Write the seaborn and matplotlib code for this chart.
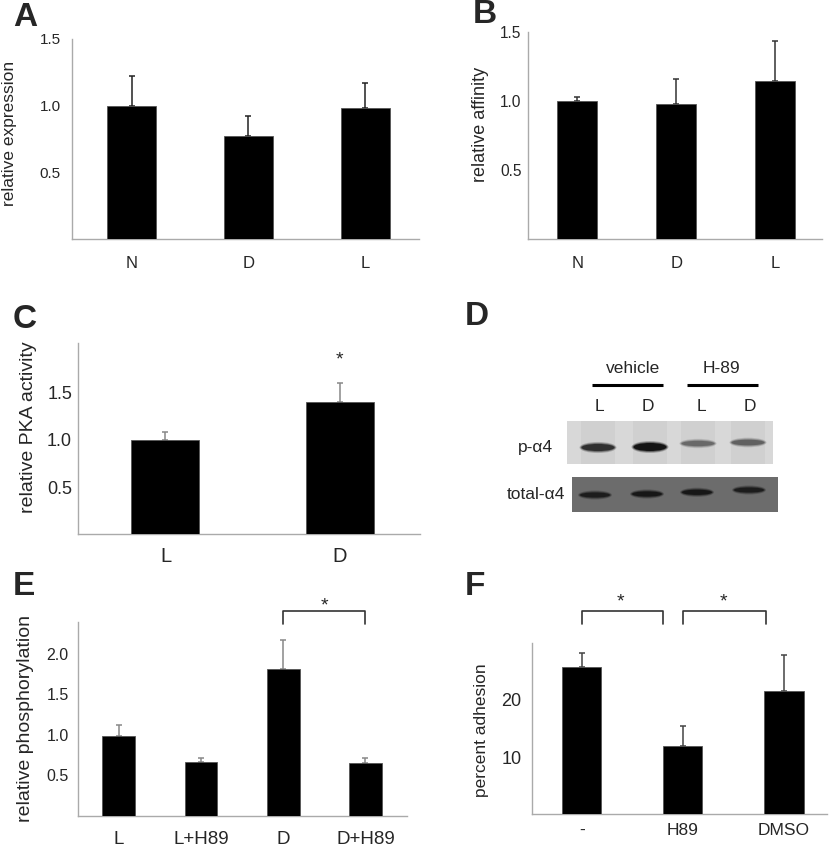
import matplotlib
matplotlib.use("Agg")
import numpy as np
import seaborn as sns
import matplotlib.pyplot as plt
from matplotlib.patches import Rectangle, Ellipse

# ---------------------------------------------------------------------------
# data
# ---------------------------------------------------------------------------
groups_a = ["N", "D", "L"]
expression_mean = [1.00, 0.77, 0.98]
expression_err = [0.22, 0.155, 0.19]

groups_b = ["N", "D", "L"]
affinity_mean = [1.00, 0.98, 1.146]
affinity_err = [0.03, 0.175, 0.29]

groups_c = ["L", "D"]
pka_mean = [1.00, 1.40]
pka_err = [0.08, 0.195]

groups_e = ["L", "L+H89", "D", "D+H89"]
phospho_mean = [0.98, 0.67, 1.82, 0.65]
phospho_err = [0.14, 0.05, 0.35, 0.06]

groups_f = ["-", "H89", "DMSO"]
adhesion_mean = [25.75, 11.9, 21.6]
adhesion_err = [2.45, 3.5, 6.3]

# western blot (panel D)
blot_lanes = ["L", "D", "L", "D"]
blot_treatments = ["vehicle", "H-89"]
p_a4_signal = [0.85, 1.0, 0.55, 0.6]
total_a4_signal = [0.92, 0.95, 0.95, 0.92]

# ---------------------------------------------------------------------------
sns.set_theme(style="white")
plt.rcParams["font.family"] = ["Liberation Sans", "DejaVu Sans"]

W, H = 835, 848
fig = plt.figure(figsize=(W / 100, H / 100), dpi=100)


def px_rect(l, t, r, b):
    return [l / W, 1 - b / H, (r - l) / W, (b - t) / H]


def bar_panel(rect, labels, means, errs, ylim, yticks, yticklabels, xlim, width,
              ylabel, lab_xy, fs_tick, fs_x, fs_lab, ecolor, xpad, ypad):
    ax = fig.add_axes(px_rect(*rect))
    sns.barplot(x=labels, y=means, color="black", saturation=1, width=width,
                edgecolor="#555555", linewidth=0.6, ax=ax, zorder=3)
    ax.errorbar(range(len(labels)), means, yerr=[np.zeros(len(errs)), errs],
                fmt="none", ecolor=ecolor, elinewidth=1.1, capsize=2.2,
                capthick=1.1, zorder=2)
    ax.set_xlim(*xlim)
    ax.set_ylim(*ylim)
    ax.set_yticks(yticks)
    ax.set_yticklabels(yticklabels)
    for s in ["top", "right"]:
        ax.spines[s].set_visible(False)
    for s in ["left", "bottom"]:
        ax.spines[s].set_color("#aaaaaa")
        ax.spines[s].set_linewidth(1.0)
    ax.tick_params(axis="y", length=3.5, width=1, color="#aaaaaa",
                   pad=ypad, labelsize=fs_tick)
    ax.tick_params(axis="x", length=0, pad=xpad, labelsize=fs_x)
    ax.set_xlabel("")
    ax.set_ylabel(ylabel, fontsize=fs_lab, va="center")
    ax.yaxis.set_label_coords(*lab_xy)
    return ax


def band(ax, x, y, w, h, shade):
    # soft-edged blot band: faint halo + core
    ax.add_patch(Ellipse((x, y), w + 4, h + 4, facecolor=shade, alpha=0.25, edgecolor="none"))
    ax.add_patch(Ellipse((x, y), w + 2, h + 2, facecolor=shade, alpha=0.45, edgecolor="none"))
    ax.add_patch(Ellipse((x, y), w, h, facecolor=shade, edgecolor="none"))


# A
bar_panel((72, 39, 419, 239), groups_a, expression_mean, expression_err,
          (0, 1.5), [0.5, 1.0, 1.5], ["0.5", "1.0", "1.5"], (-0.51, 2.46), 0.42,
          "relative expression", (-0.18, 0.53), 11, 12, 12.5, "#222222", 12, 4.5)

# B
bar_panel((527.7, 31.7, 821.7, 239.3), groups_b, affinity_mean, affinity_err,
          (0, 1.5), [0.5, 1.0, 1.5], ["0.5", "1.0", "1.5"], (-0.50, 2.47), 0.40,
          "relative affinity", (-0.159, 0.555), 11.2, 12, 13, "#333333", 12, 1)

# C
ax_c = bar_panel((78.3, 343.3, 420, 534.3), groups_c, pka_mean, pka_err,
                 (0, 2.02), [0.5, 1.0, 1.5], ["0.5", "1.0", "1.5"], (-0.50, 1.46), 0.39,
                 "relative PKA activity", (-0.147, 0.56), 13, 14.5, 14, "#888888", 9.5, 1)
ax_c.text(1, 1.84, "*", ha="center", va="center", fontsize=14)

# E
ax_e = bar_panel((77.7, 621.7, 407.3, 815.7), groups_e, phospho_mean, phospho_err,
                 (0, 2.40), [0.5, 1.0, 1.5, 2.0], ["0.5", "1.0", "1.5", "2.0"],
                 (-0.50, 3.51), 0.40,
                 "relative phosphorylation", (-0.157, 0.50), 11.5, 13.5, 14, "#888888", 11, 3)
ax_e.plot([2, 2, 3, 3], [2.37, 2.53, 2.53, 2.37], color="#333333", lw=1.2, clip_on=False)
ax_e.text(2.5, 2.60, "*", ha="center", va="center", fontsize=14, clip_on=False)

# F
ax_f = bar_panel((531.7, 642.7, 827.3, 814.3), groups_f, adhesion_mean, adhesion_err,
                 (0, 30), [10, 20], ["10", "20"], (-0.495, 2.43), 0.39,
                 "percent adhesion", (-0.171, 0.49), 13, 12.5, 12.5, "#444444", 6, 4)
ax_f.plot([0, 0, 0.8, 0.8], [33.3, 35.5, 35.5, 33.3], color="#333333", lw=1.2, clip_on=False)
ax_f.plot([1.0, 1.0, 1.82, 1.82], [33.3, 35.5, 35.5, 33.3], color="#333333", lw=1.2, clip_on=False)
ax_f.text(0.38, 37.2, "*", ha="center", va="center", fontsize=14, clip_on=False)
ax_f.text(1.40, 37.2, "*", ha="center", va="center", fontsize=14, clip_on=False)

# D: blot drawn in pixel coordinates of its own region
ax_d = fig.add_axes(px_rect(420, 290, 835, 560))
ax_d.set_xlim(420, 835)
ax_d.set_ylim(560, 290)
ax_d.axis("off")

lane_x_top = [598, 650, 698, 748]
lane_y_top = [447.5, 447, 443.5, 442.5]
lane_x_bot = [595, 647, 697, 749]
lane_y_bot = [495, 494, 492.3, 490]

ax_d.text(633, 369, blot_treatments[0], ha="center", va="center", fontsize=12.5)
ax_d.text(721, 369, blot_treatments[1], ha="center", va="center", fontsize=12.5)
ax_d.plot([591.7, 663.3], [385, 385], color="black", lw=2.2, solid_capstyle="butt")
ax_d.plot([686.7, 757.7], [385, 385], color="black", lw=2.2, solid_capstyle="butt")
for x, lab in zip([599, 648.3, 701, 750], blot_lanes):
    ax_d.text(x, 407, lab, ha="center", va="center", fontsize=12.5)

ax_d.add_patch(Rectangle((566.7, 421), 206.6, 43.3, facecolor="#d8d8d8", edgecolor="none"))
for x in lane_x_top:
    ax_d.add_patch(Rectangle((x - 17, 421), 34, 43.3, facecolor="#d0d0d0", edgecolor="none"))
ax_d.add_patch(Rectangle((571.7, 476.7), 206.6, 35, facecolor="#6c6c6c", edgecolor="none"))

for x, y, s in zip(lane_x_top, lane_y_top, p_a4_signal):
    shade = str(round(0.82 - 0.74 * s, 2))
    band(ax_d, x, y, 33, 2 + 6 * s, shade)
for x, y, s in zip(lane_x_bot, lane_y_bot, total_a4_signal):
    shade = str(round(0.85 - 0.8 * s, 2))
    band(ax_d, x, y, 30, 5.5 * s, shade)

ax_d.text(553, 448, "p-α4", ha="right", va="center", fontsize=12.5)
ax_d.text(565, 495, "total-α4", ha="right", va="center", fontsize=12.5)

# panel letters
for lab, x, y in [("A", 12.7, 26), ("B", 473, 23), ("C", 13, 328),
                  ("D", 465, 325), ("E", 13, 595), ("F", 465, 595)]:
    fig.text(x / W, 1 - y / H, lab, fontsize=24, fontweight="bold",
             ha="left", va="baseline")

fig.savefig("out.png", dpi=100)
